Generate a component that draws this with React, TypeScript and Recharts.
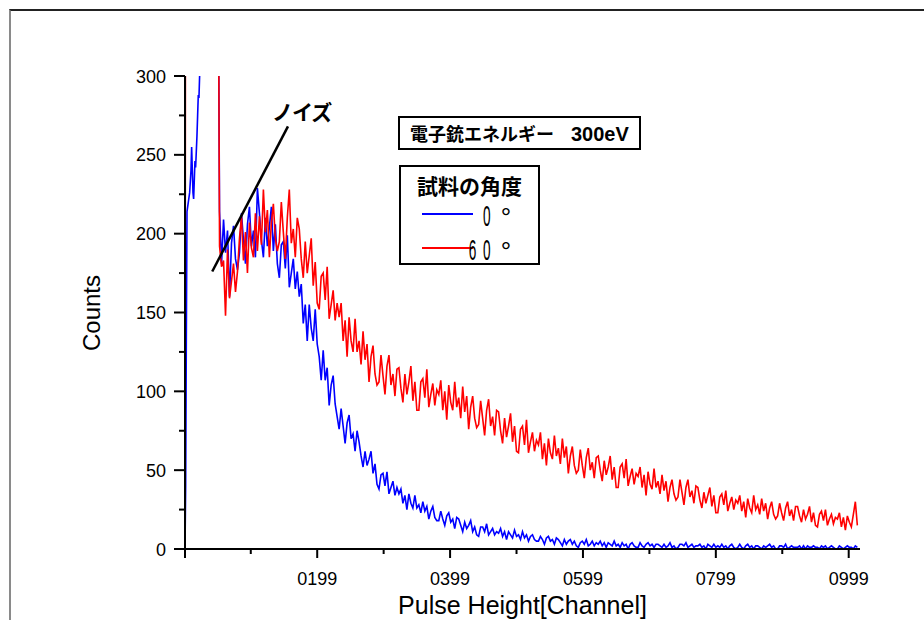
import { LineChart, Line, XAxis, YAxis, Legend, ReferenceLine } from 'recharts';

const FONT = '"Liberation Sans", Arial, sans-serif';
const JP_FONT = '"Noto Sans CJK JP", "Noto Sans CJK SC", sans-serif';

// first channels, where the noise peak runs off the top of the scale
const headChannels = [0, 1, 2, 3, 5, 7, 9, 10, 12, 13, 15, 16, 18, 19, 20, 21, 22, 24, 28, 32, 36, 40, 44, 48];
const headBlue = [0, 40, 134, 214, 220, 226, 240, 255, 226, 222, 246, 242, 262, 275, 288, 286, 300, 420, 560, 650, 700, 640, 600, 520];
const headRed = [0, 500, 640, 700, 720, 760, 800, 780, 820, 760, 800, 840, 790, 810, 760, 740, 780, 760, 720, 700, 680, 660, 640, 600];

// channel 52 onwards, one reading every 3 channels (10 readings per row)
const bodyStart = 52;
const bodyStep = 3;
const bodyBlue = [
  214, 181, 209, 188, 202, 160, 194, 205, 184, 177,
  188, 213, 196, 181, 206, 217, 192, 202, 185, 229,
  213, 196, 185, 210, 192, 204, 217, 189, 206, 181,
  172, 193, 195, 178, 199, 166, 175, 184, 165, 176,
  160, 168, 143, 155, 132, 155, 140, 132, 152, 130,
  122, 107, 126, 107, 115, 91, 104, 110, 92, 84,
  76, 89, 78, 67, 80, 85, 70, 73, 62, 75,
  68, 59, 52, 62, 53, 57, 62, 48, 54, 41,
  38, 47, 48, 40, 49, 35, 39, 43, 34, 39,
  35, 38, 29, 34, 25, 35, 29, 26, 34, 26,
  28, 23, 30, 24, 27, 19, 24, 27, 20, 18,
  18, 24, 19, 15, 21, 23, 17, 19, 13, 20,
  19, 15, 11, 17, 13, 15, 18, 11, 14, 9,
  8, 14, 14, 11, 16, 9, 11, 13, 9, 11,
  10, 13, 8, 11, 6, 11, 9, 7, 12, 8,
  9, 6, 11, 7, 9, 5, 8, 9, 6, 5,
  5, 8, 6, 3, 7, 8, 5, 6, 3, 7,
  6, 4, 2, 6, 3, 5, 6, 3, 5, 2,
  1, 4, 5, 3, 6, 2, 3, 5, 2, 4,
  3, 5, 2, 4, 1, 4, 3, 2, 5, 2,
  3, 1, 4, 2, 3, 0, 3, 4, 2, 1,
  1, 4, 2, 1, 3, 4, 2, 3, 1, 3,
  3, 2, 1, 3, 1, 2, 4, 1, 2, 0,
  1, 3, 3, 2, 4, 1, 2, 3, 1, 2,
  2, 3, 1, 2, 0, 3, 2, 1, 3, 1,
  2, 1, 3, 1, 2, 0, 2, 3, 1, 0,
  1, 3, 1, 0, 2, 3, 1, 2, 0, 2,
  2, 1, 0, 2, 1, 2, 3, 1, 2, 0,
  0, 2, 2, 1, 3, 0, 1, 2, 1, 1,
  1, 2, 0, 2, 0, 2, 1, 1, 2, 1,
  1, 0, 2, 1, 2, 0, 1, 2, 1, 0,
  0, 2, 1, 0, 1, 2, 1, 1, 0, 2,
  1,
];
const bodyRed = [
  192, 179, 183, 148, 190, 159, 170, 181, 163, 176,
  197, 211, 183, 201, 175, 207, 191, 185, 213, 189,
  211, 193, 228, 201, 215, 185, 207, 219, 197, 189,
  195, 220, 201, 184, 210, 228, 194, 203, 185, 210,
  203, 184, 172, 195, 175, 186, 197, 167, 182, 156,
  152, 173, 175, 158, 179, 146, 155, 164, 145, 156,
  147, 156, 132, 145, 122, 147, 132, 125, 146, 125,
  132, 117, 138, 120, 130, 106, 122, 129, 111, 104,
  106, 123, 110, 98, 116, 123, 104, 111, 97, 114,
  115, 102, 93, 111, 98, 106, 116, 94, 106, 88,
  88, 106, 108, 96, 114, 90, 98, 105, 91, 101,
  98, 107, 88, 100, 82, 104, 93, 88, 106, 90,
  96, 83, 103, 87, 97, 76, 90, 97, 83, 77,
  79, 94, 83, 72, 88, 95, 78, 84, 72, 88,
  87, 75, 67, 83, 71, 78, 86, 68, 78, 62,
  61, 76, 78, 66, 82, 61, 68, 74, 62, 69,
  66, 74, 57, 67, 53, 70, 61, 57, 72, 59,
  64, 54, 70, 58, 65, 48, 59, 65, 53, 48,
  50, 63, 53, 45, 58, 64, 50, 55, 45, 58,
  59, 50, 43, 56, 47, 52, 59, 44, 52, 39,
  39, 52, 54, 45, 57, 40, 46, 51, 41, 48,
  46, 52, 39, 47, 34, 49, 41, 38, 51, 39,
  43, 35, 47, 37, 43, 30, 39, 44, 35, 31,
  33, 44, 36, 28, 39, 44, 33, 37, 29, 40,
  39, 31, 26, 36, 29, 34, 39, 27, 34, 23,
  23, 33, 35, 28, 37, 24, 29, 33, 25, 31,
  29, 34, 24, 30, 20, 32, 26, 23, 34, 25,
  28, 22, 32, 24, 29, 19, 26, 30, 22, 19,
  21, 29, 23, 18, 26, 30, 21, 25, 18, 27,
  27, 21, 17, 25, 19, 22, 27, 17, 23, 15,
  14, 22, 24, 18, 25, 15, 19, 22, 16, 20,
  19, 23, 14, 20, 12, 21, 17, 14, 22, 30,
  15,
];

const xTicks = [0, 99, 199, 299, 399, 499, 599, 699, 799, 899, 999];
const yTicks = [0, 25, 50, 75, 100, 125, 150, 175, 200, 225, 250, 275, 300];
const noiseSegment = [{ x: 41, y: 176 }, { x: 155, y: 268 }];

const chartData = [
  ...headChannels.map((ch, i) => ({ ch, blue: headBlue[i], red: headRed[i] })),
  ...bodyBlue.map((b, i) => ({ ch: bodyStart + i * bodyStep, blue: b, red: bodyRed[i] })),
];

function XTick({ x, y, payload }: any) {
  const v = payload.value;
  const major = v === 0 || v % 200 === 199;
  return (
    <g>
      <line x1={x} x2={x} y1={y} y2={y + (major ? 9 : 5)} stroke="#000" strokeWidth={2} />
      {major && v > 0 && (
        <text x={x} y={y + 36} textAnchor="middle" fontSize={18} fontFamily={FONT} fill="#000">
          {String(v).padStart(4, '0')}
        </text>
      )}
    </g>
  );
}

function YTick({ x, y, payload }: any) {
  const v = payload.value;
  const major = v % 50 === 0;
  return (
    <g>
      <line x1={x - (major ? 11 : 6)} x2={x} y1={y} y2={y} stroke="#000" strokeWidth={2} />
      {major && (
        <text x={x - 19} y={y + 6.5} textAnchor="end" fontSize={18} fontFamily={FONT} fill="#000">
          {v}
        </text>
      )}
    </g>
  );
}

function AngleLegend({ payload }: any) {
  const items = payload || [];
  return (
    <svg width={141} height={100} style={{ display: 'block' }}>
      <rect x={1} y={1} width={139} height={98} fill="#fff" stroke="#000" strokeWidth={2} />
      <text x={70.5} y={29} textAnchor="middle" fontSize={21} fontWeight={700} fontFamily={JP_FONT}>
        試料の角度
      </text>
      {items.map((p: any, i: number) => {
        const rowY = 49 + i * 34;
        const digits = String(p.value).replace(' °', '');
        return (
          <g key={p.value}>
            <line x1={23} x2={74} y1={rowY} y2={rowY} stroke={p.color} strokeWidth={2} />
            <text
              transform={`translate(93, ${rowY + 12}) scale(0.47, 1)`}
              textAnchor="end"
              fontSize={29}
              fontFamily={FONT}
              letterSpacing={3}
            >
              {digits}
            </text>
            <text x={107} y={rowY + 12} textAnchor="middle" fontSize={26} fontFamily={FONT}>
              °
            </text>
          </g>
        );
      })}
    </svg>
  );
}

export default function App() {
  return (
    <div style={{ position: 'absolute', left: 0, top: 0, width: 924, height: 620, background: '#fff', overflow: 'hidden' }}>
      <div
        style={{
          position: 'absolute',
          left: 9,
          top: 9,
          width: 924,
          height: 620,
          borderTop: '2px solid #222',
          borderLeft: '2px solid #8a8a8a',
        }}
      />
      <LineChart
        width={924}
        height={620}
        data={chartData}
        margin={{ top: 76, right: 64, bottom: 11, left: 85 }}
        style={{ position: 'absolute', left: 0, top: 0 }}
      >
        <XAxis
          type="number"
          dataKey="ch"
          domain={[0, 1016]}
          ticks={xTicks}
          interval={0}
          height={60}
          tickSize={0}
          tickMargin={0}
          tick={<XTick />}
          axisLine={{ stroke: '#000', strokeWidth: 2 }}
          label={{
            value: 'Pulse Height[Channel]',
            position: 'insideTop',
            offset: 47,
            fontSize: 25,
            fontFamily: FONT,
            fill: '#000',
          }}
        />
        <YAxis
          type="number"
          domain={[0, 300]}
          allowDataOverflow
          ticks={yTicks}
          interval={0}
          width={100}
          tickSize={0}
          tickMargin={0}
          tick={<YTick />}
          axisLine={{ stroke: '#000', strokeWidth: 2 }}
          label={{
            value: 'Counts',
            content: () => (
              <text
                x={100}
                y={313}
                transform="rotate(-90, 100, 313)"
                textAnchor="middle"
                fontSize={24}
                fontFamily={FONT}
                fill="#000"
              >
                Counts
              </text>
            ),
          }}
        />
        <Line
          dataKey="blue"
          name="0 °"
          type="linear"
          stroke="#0000ff"
          strokeWidth={1.6}
          dot={false}
          isAnimationActive={false}
        />
        <Line
          dataKey="red"
          name="6 0 °"
          type="linear"
          stroke="#ff0000"
          strokeWidth={1.6}
          dot={false}
          isAnimationActive={false}
        />
        <ReferenceLine segment={noiseSegment} stroke="#000" strokeWidth={2.5} />
        <Legend
          layout="vertical"
          align="center"
          verticalAlign="middle"
          content={<AngleLegend />}
          wrapperStyle={{ left: 399, top: 165, width: 141, height: 100 }}
        />
      </LineChart>
      <svg width={924} height={620} style={{ position: 'absolute', left: 0, top: 0, pointerEvents: 'none' }}>
        <text x={272} y={120} fontSize={21} fontWeight={700} fontFamily={JP_FONT} fill="#000" letterSpacing={-1}>
          ノイズ
        </text>
        <rect x={399} y={117} width={241} height={32} fill="#fff" stroke="#000" strokeWidth={2} />
        <text x={410} y={141} fontSize={18} fontWeight={700} fontFamily={JP_FONT} fill="#000">
          電子銃エネルギー
        </text>
        <text x={571} y={141} fontSize={20} fontWeight={700} fontFamily={FONT} fill="#000">
          300eV
        </text>
      </svg>
    </div>
  );
}
